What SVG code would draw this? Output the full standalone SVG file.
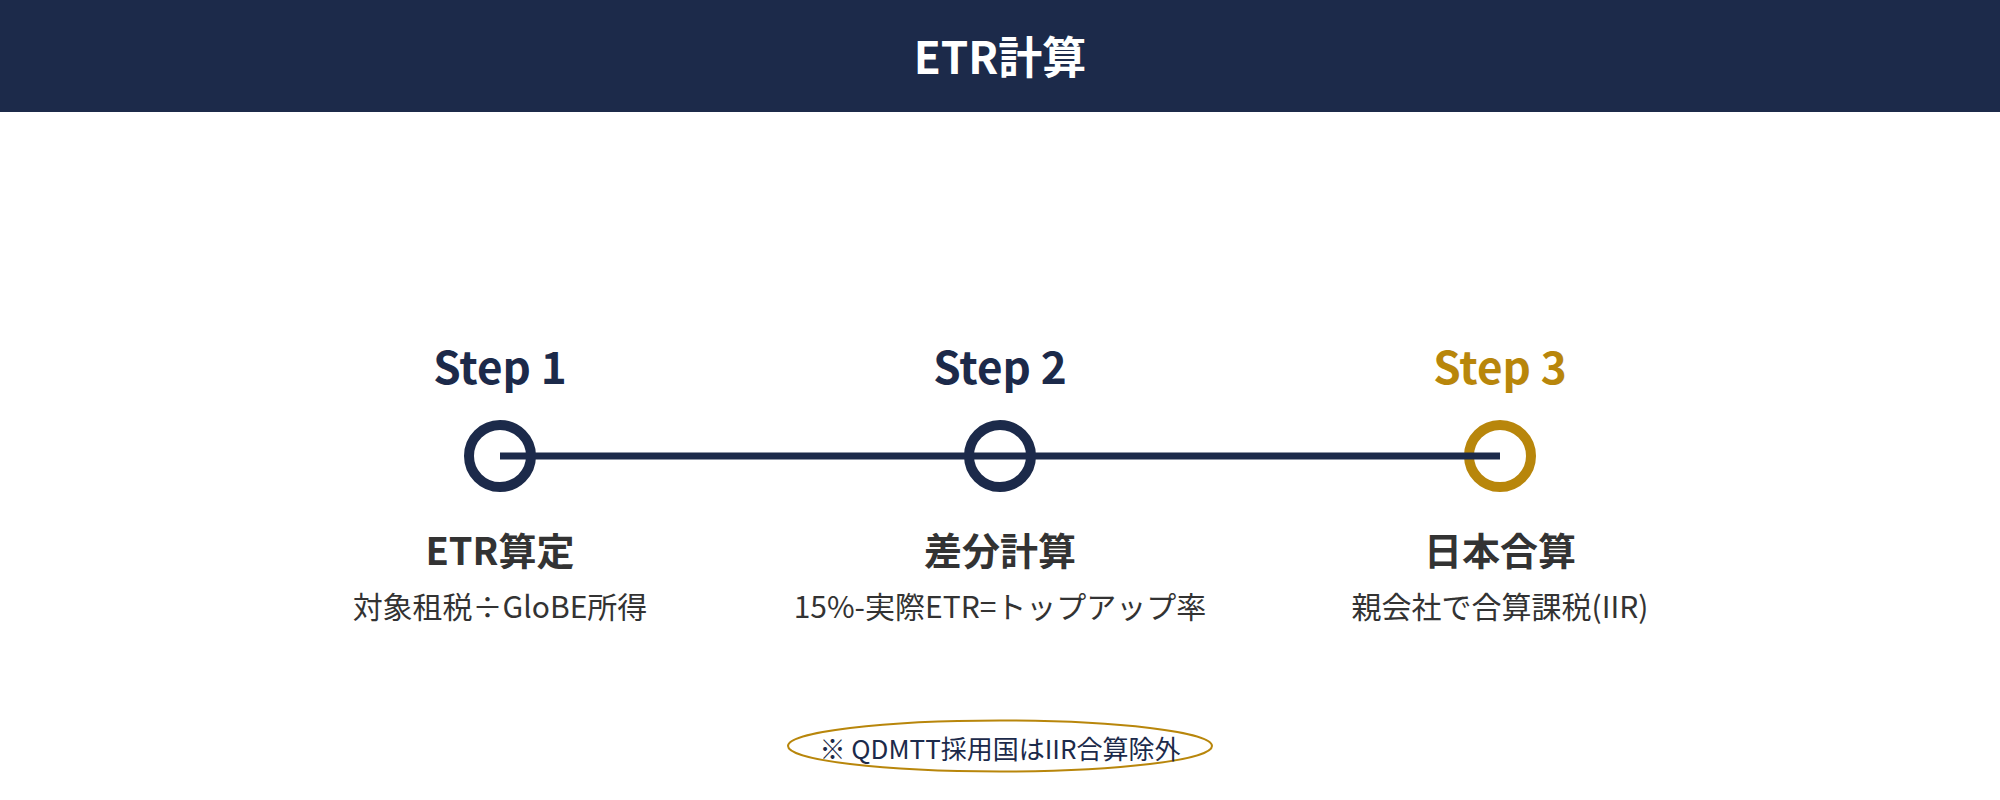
<svg xmlns="http://www.w3.org/2000/svg" width="2000" height="800" viewBox="0 0 2000 800">
<style>
.hdr{fill:#1c2a4a}
.title{font-family:"Noto Sans CJK JP","Noto Sans",sans-serif;font-weight:700;font-size:44px;fill:#ffffff;text-anchor:middle}
.step{font-family:"Noto Sans CJK JP","Noto Sans",sans-serif;font-weight:700;font-size:44px;text-anchor:middle}
.navy{fill:#1c2a4a}
.gold{fill:#b8860b}
.ring{fill:none;stroke-width:10}
.lbl{font-family:"Noto Sans CJK JP","Noto Sans",sans-serif;font-weight:700;font-size:38px;fill:#333333;text-anchor:middle}
.sub{font-family:"Noto Sans CJK JP","Noto Sans",sans-serif;font-weight:400;font-size:30px;fill:#333333;text-anchor:middle}
.note{font-family:"Noto Sans CJK JP","Noto Sans",sans-serif;font-weight:400;font-size:26px;fill:#1c2a4a;text-anchor:middle}
</style>
<rect width="2000" height="800" fill="#ffffff"/>
<g id="header">
<rect class="hdr" x="0" y="0" width="2000" height="112"/>
<text class="title" x="1000" y="74">ETR計算</text>
</g>
<g id="step1">
<text class="step navy" x="500" y="384">Step 1</text>
<circle class="ring" cx="500" cy="456" r="31" stroke="#1c2a4a"/>
<text class="lbl" x="500" y="565">ETR算定</text>
<text class="sub" x="500" y="618">対象租税÷GloBE所得</text>
</g>
<g id="step2">
<text class="step navy" x="1000" y="384">Step 2</text>
<circle class="ring" cx="1000" cy="456" r="31" stroke="#1c2a4a"/>
<text class="lbl" x="1000" y="565">差分計算</text>
<text class="sub" x="1000" y="618">15%-実際ETR=トップアップ率</text>
</g>
<g id="step3">
<text class="step gold" x="1500" y="384">Step 3</text>
<circle class="ring" cx="1500" cy="456" r="31" stroke="#b8860b"/>
<text class="lbl" x="1500" y="565">日本合算</text>
<text class="sub" x="1500" y="618">親会社で合算課税(IIR)</text>
</g>
<g id="connectors">
<line x1="500" y1="456" x2="1500" y2="456" stroke="#1c2a4a" stroke-width="7"/>
</g>
<g id="note">
<ellipse cx="1000" cy="746" rx="212" ry="25.5" fill="none" stroke="#b8860b" stroke-width="2"/>
<text class="note" x="1000" y="759">※ QDMTT採用国はIIR合算除外</text>
</g>
</svg>
